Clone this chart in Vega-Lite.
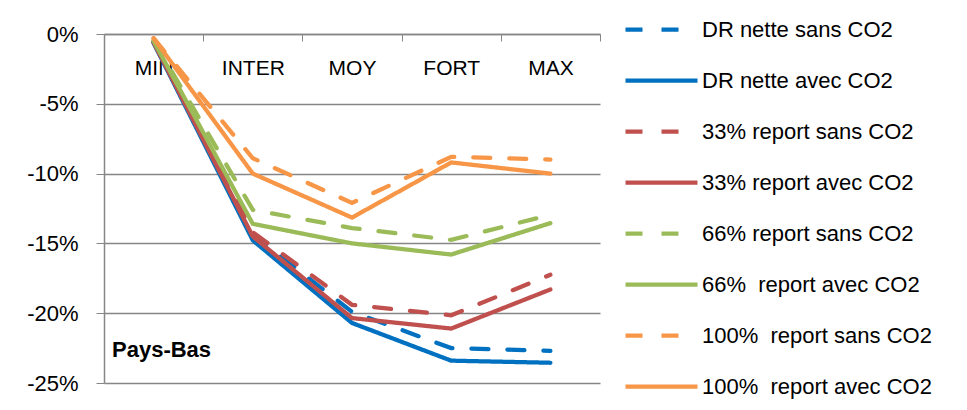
{
  "$schema": "https://vega.github.io/schema/vega-lite/v6.json",
  "width": 496,
  "height": 349,
  "autosize": {"type": "none"},
  "padding": {"left": 104, "top": 34, "right": 367, "bottom": 27},
  "background": "white",
  "config": {
    "view": {"stroke": null},
    "font": "Liberation Sans"
  },
  "datasets": {
    "series": [
      {"serie": "DR nette sans CO2", "cat": "MIN", "val": -0.006},
      {"serie": "DR nette sans CO2", "cat": "INTER", "val": -0.144},
      {"serie": "DR nette sans CO2", "cat": "MOY", "val": -0.199},
      {"serie": "DR nette sans CO2", "cat": "FORT", "val": -0.225},
      {"serie": "DR nette sans CO2", "cat": "MAX", "val": -0.227},
      {"serie": "DR nette avec CO2", "cat": "MIN", "val": -0.0065},
      {"serie": "DR nette avec CO2", "cat": "INTER", "val": -0.1478},
      {"serie": "DR nette avec CO2", "cat": "MOY", "val": -0.207},
      {"serie": "DR nette avec CO2", "cat": "FORT", "val": -0.234},
      {"serie": "DR nette avec CO2", "cat": "MAX", "val": -0.2355},
      {"serie": "33% report sans CO2", "cat": "MIN", "val": -0.0055},
      {"serie": "33% report sans CO2", "cat": "INTER", "val": -0.142},
      {"serie": "33% report sans CO2", "cat": "MOY", "val": -0.194},
      {"serie": "33% report sans CO2", "cat": "FORT", "val": -0.2015},
      {"serie": "33% report sans CO2", "cat": "MAX", "val": -0.1725},
      {"serie": "33% report avec CO2", "cat": "MIN", "val": -0.006},
      {"serie": "33% report avec CO2", "cat": "INTER", "val": -0.145},
      {"serie": "33% report avec CO2", "cat": "MOY", "val": -0.2035},
      {"serie": "33% report avec CO2", "cat": "FORT", "val": -0.211},
      {"serie": "33% report avec CO2", "cat": "MAX", "val": -0.183},
      {"serie": "66% report sans CO2", "cat": "MIN", "val": -0.0045},
      {"serie": "66% report sans CO2", "cat": "INTER", "val": -0.126},
      {"serie": "66% report sans CO2", "cat": "MOY", "val": -0.139},
      {"serie": "66% report sans CO2", "cat": "FORT", "val": -0.1475},
      {"serie": "66% report sans CO2", "cat": "MAX", "val": -0.1295},
      {"serie": "66%\u00a0 report avec CO2", "cat": "MIN", "val": -0.005},
      {"serie": "66%\u00a0 report avec CO2", "cat": "INTER", "val": -0.136},
      {"serie": "66%\u00a0 report avec CO2", "cat": "MOY", "val": -0.15},
      {"serie": "66%\u00a0 report avec CO2", "cat": "FORT", "val": -0.158},
      {"serie": "66%\u00a0 report avec CO2", "cat": "MAX", "val": -0.1355},
      {"serie": "100%\u00a0 report sans CO2", "cat": "MIN", "val": -0.003},
      {"serie": "100%\u00a0 report sans CO2", "cat": "INTER", "val": -0.089},
      {"serie": "100%\u00a0 report sans CO2", "cat": "MOY", "val": -0.121},
      {"serie": "100%\u00a0 report sans CO2", "cat": "FORT", "val": -0.088},
      {"serie": "100%\u00a0 report sans CO2", "cat": "MAX", "val": -0.09},
      {"serie": "100%\u00a0 report avec CO2", "cat": "MIN", "val": -0.003},
      {"serie": "100%\u00a0 report avec CO2", "cat": "INTER", "val": -0.1},
      {"serie": "100%\u00a0 report avec CO2", "cat": "MOY", "val": -0.1315},
      {"serie": "100%\u00a0 report avec CO2", "cat": "FORT", "val": -0.092},
      {"serie": "100%\u00a0 report avec CO2", "cat": "MAX", "val": -0.1}
    ],
    "note": [{"label": "Pays-Bas", "cat": "MIN", "val": -0.2265}]
  },
  "layer": [
    {
      "data": {"name": "series"},
      "mark": {"type": "line", "strokeWidth": 4.25, "strokeCap": "round", "strokeJoin": "miter"},
      "encoding": {
        "x": {
          "field": "cat", "type": "nominal",
          "sort": ["MIN", "INTER", "MOY", "FORT", "MAX"],
          "scale": {"paddingInner": 0, "paddingOuter": 0},
          "axis": {
            "title": null, "orient": "bottom", "offset": -349,
            "labelAngle": 0, "labelFontSize": 21, "labelColor": "#000000",
            "labelBaseline": "middle", "labelPadding": 27,
            "tickSize": 7, "tickColor": "#868686", "tickBand": "extent",
            "domainColor": "#868686", "domainWidth": 1.5, "grid": false
          }
        },
        "y": {
          "field": "val", "type": "quantitative",
          "scale": {"domain": [-0.25, 0], "nice": false},
          "axis": {
            "title": null, "values": [-0.25, -0.2, -0.15, -0.1, -0.05, 0],
            "labelExpr": "round(datum.value*100) + '%'",
            "labelFontSize": 22, "labelColor": "#000000",
            "labelPadding": 18, "tickSize": 8, "tickColor": "#868686",
            "domainColor": "#868686", "domainWidth": 1.5,
            "grid": true, "gridColor": "#868686", "gridWidth": 1.5
          }
        },
        "color": {
          "field": "serie", "type": "nominal",
          "sort": null,
          "scale": {
            "domain": ["DR nette sans CO2", "DR nette avec CO2", "33% report sans CO2", "33% report avec CO2", "66% report sans CO2", "66%\u00a0 report avec CO2", "100%\u00a0 report sans CO2", "100%\u00a0 report avec CO2"],
            "range": ["#0070C0", "#0070C0", "#C0504D", "#C0504D", "#9BBB59", "#9BBB59", "#F79646", "#F79646"]
          },
          "legend": {
            "title": null, "orient": "none", "legendX": 519, "legendY": -43,
            "symbolType": "stroke", "symbolSize": 5184, "symbolStrokeWidth": 4.25,
            "labelFontSize": 22, "labelColor": "#000000", "labelOffset": 2,
            "labelLimit": 400, "rowPadding": 1, "padding": 0
          }
        },
        "strokeDash": {
          "field": "serie", "type": "nominal",
          "sort": null,
          "scale": {
            "domain": ["DR nette sans CO2", "DR nette avec CO2", "33% report sans CO2", "33% report avec CO2", "66% report sans CO2", "66%\u00a0 report avec CO2", "100%\u00a0 report sans CO2", "100%\u00a0 report avec CO2"],
            "range": [[17, 19], [1, 0], [17, 19], [1, 0], [17, 19], [1, 0], [17, 19], [1, 0]]
          },
          "legend": {
            "title": null, "orient": "none", "legendX": 519, "legendY": -43,
            "symbolType": "stroke", "symbolSize": 5184, "symbolStrokeWidth": 4.25,
            "labelFontSize": 22, "labelColor": "#000000", "labelOffset": 2,
            "labelLimit": 400, "rowPadding": 1, "padding": 0
          }
        }
      }
    },
    {
      "data": {"name": "note"},
      "mark": {"type": "text", "fontSize": 22, "fontWeight": "bold", "align": "left", "baseline": "middle", "dx": 8, "color": "#000000"},
      "encoding": {
        "x": {"field": "cat", "type": "nominal", "bandPosition": 0, "sort": ["MIN", "INTER", "MOY", "FORT", "MAX"]},
        "y": {"field": "val", "type": "quantitative"},
        "text": {"field": "label"}
      }
    }
  ]
}
